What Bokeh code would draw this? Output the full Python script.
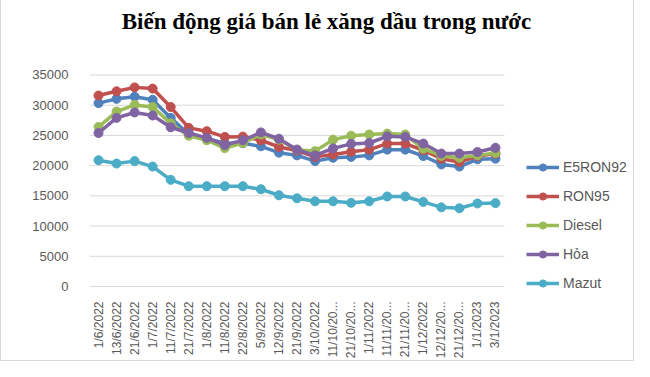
import math
from bokeh.plotting import figure
from bokeh.models import (Range1d, FixedTicker, Legend, LegendItem, Label,
                          ColumnDataSource)
from bokeh.embed import file_html
from bokeh.resources import INLINE

title_text = "Biến động giá bán lẻ xăng dầu trong nước"

dates = ["1/6/2022", "13/6/2022", "21/6/2022", "1/7/2022", "11/7/2022", "21/7/2022",
         "1/8/2022", "11/8/2022", "22/8/2022", "5/9/2022", "12/9/2022", "21/9/2022",
         "3/10/2022", "11/10/20...", "21/10/20...", "1/11/2022", "11/11/20...",
         "21/11/20...", "1/12/2022", "12/12/20...", "21/12/20...", "1/1/2023", "3/1/2023"]

e5ron92 = [30350, 31050, 31400, 30900, 27900, 25200, 24500, 23700, 23700, 23200, 22150, 21700,
           20750, 21300, 21450, 21700, 22650, 22650, 21600, 20200, 19850, 21050, 21150]
ron95 = [31600, 32300, 32950, 32750, 29700, 26250, 25700, 24750, 24800, 24200, 23100, 22500,
         21450, 21850, 22300, 22650, 23650, 23650, 22550, 21150, 20600, 21600, 21950]
diesel = [26400, 28950, 30050, 29700, 27000, 24950, 24200, 22900, 23750, 25150, 24300, 22650,
          22400, 24300, 24950, 25150, 25300, 25150, 22800, 21600, 21300, 21700, 22100]
hoa = [25400, 27900, 28800, 28300, 26350, 25400, 24600, 23400, 24200, 25500, 24450, 22650,
       21700, 22850, 23600, 23750, 24850, 24750, 23650, 22000, 22000, 22250, 22950]
mazut = [20900, 20350, 20750, 19850, 17650, 16600, 16600, 16600, 16600, 16100, 15100, 14600,
         14100, 14100, 13850, 14100, 14900, 14900, 14000, 13100, 12950, 13750, 13800]

series_names = ["E5RON92", "RON95", "Diesel", "Hỏa", "Mazut"]
series_values = [e5ron92, ron95, diesel, hoa, mazut]
colors = ["#4F81BD", "#C0504D", "#9BBB59", "#8064A2", "#4BACC6"]
y_ticks = [0, 5000, 10000, 15000, 20000, 25000, 30000, 35000]

FONT = "Liberation Sans"
TXT = "#595959"
GRID = "#D9D9D9"

n = len(dates)
xs = list(range(n))

# frame: left 88 .. right 634 px, top 0 .. bottom ~293 px
FB = 293
px_x = 415 / n            # px per category
px_y = 213 / 35000        # px per unit
x_start = -0.5
x_end = x_start + (634 - 88) / px_x
y_start = -(FB - 288) / px_y
y_end = 35000 + 75 / px_y

p = figure(width=634, height=361, output_backend="svg", toolbar_location=None,
           x_range=Range1d(x_start, x_end), y_range=Range1d(y_start, y_end),
           min_border_left=88, min_border_right=0, min_border_top=0,
           min_border_bottom=361 - FB)
p.outline_line_color = None
p.background_fill_color = "white"
p.border_fill_color = "white"
p.styles = {"border-left": "1px solid #D9D9D9", "border-right": "1px solid #D9D9D9",
            "border-bottom": "1px solid #D9D9D9"}

# axes
p.yaxis.ticker = FixedTicker(ticks=y_ticks)
p.yaxis.axis_line_color = None
p.yaxis.major_tick_line_color = None
p.yaxis.minor_tick_line_color = None
p.yaxis.major_label_standoff = 15
p.yaxis.major_label_text_font = FONT
p.yaxis.major_label_text_font_size = "13px"
p.yaxis.major_label_text_color = TXT

p.xaxis.ticker = FixedTicker(ticks=xs)
p.xaxis.major_label_overrides = {i: d for i, d in zip(xs, dates)}
p.xaxis.axis_line_color = None
p.xaxis.major_tick_line_color = None
p.xaxis.minor_tick_line_color = None
p.xaxis.major_label_orientation = math.pi / 2
p.xaxis.major_label_standoff = 4
p.xaxis.major_label_text_font = FONT
p.xaxis.major_label_text_font_size = "12px"
p.xaxis.major_label_text_color = TXT

p.xgrid.grid_line_color = None
p.ygrid.grid_line_color = None

# horizontal gridlines across the category span only
p.segment(x0=-0.5, x1=n - 0.5, y0=y_ticks, y1=y_ticks, line_color=GRID, line_width=1)

items = []
for name, vals, col in zip(series_names, series_values, colors):
    src = ColumnDataSource(dict(x=xs, y=vals))
    ln = p.line("x", "y", source=src, line_color=col, line_width=3.5)
    sc = p.scatter("x", "y", source=src, marker="circle", size=9,
                   fill_color=col, line_color=col)
    items.append(LegendItem(label=name, renderers=[ln, sc]))

legend = Legend(items=items, location=(437, -1), orientation="vertical",
                glyph_width=33, glyph_height=18, label_height=18, spacing=11,
                label_standoff=4, padding=0, margin=0,
                border_line_color=None, background_fill_alpha=0,
                label_text_font=FONT, label_text_font_size="14px",
                label_text_color=TXT)
p.add_layout(legend, "center")

# title
p.add_layout(Label(x=x_start + (325 - 88) / px_x, y=35000 + (75 - 21) / px_y,
                   text=title_text, text_align="center", text_baseline="alphabetic",
                   text_font="Liberation Serif", text_font_style="bold",
                   text_font_size="23px", text_color="black"))

open("out.html", "w").write(file_html(p, INLINE))
